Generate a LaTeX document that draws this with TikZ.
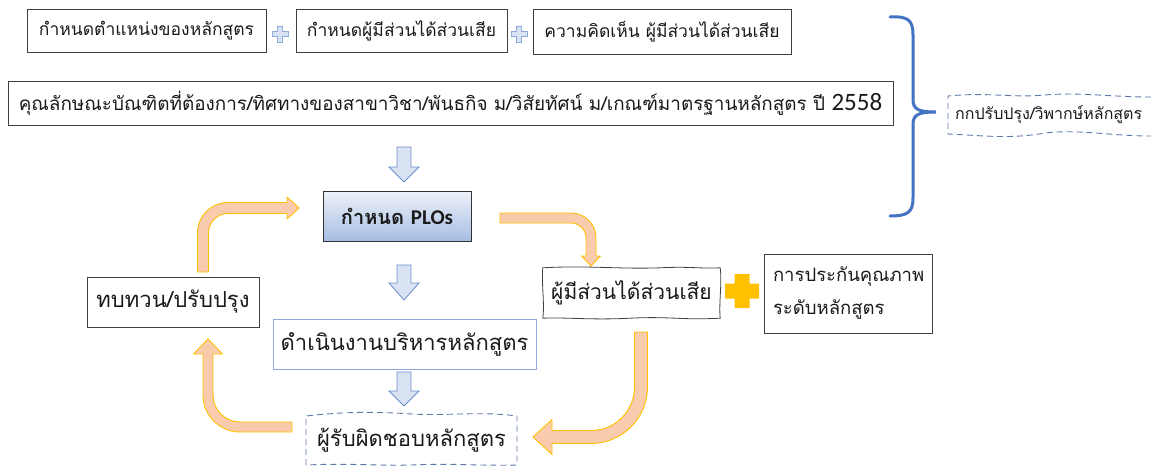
\documentclass[tikz,border=0pt]{standalone}
\usepackage{fontspec}
\newfontfamily\thai[Script=Thai]{Loma}
\newfontfamily\latinf{Carlito}
\definecolor{ofill}{HTML}{F8CBAD}
\definecolor{oline}{HTML}{FFC000}
\definecolor{bfill}{HTML}{DAE3F3}
\definecolor{bline}{HTML}{6A8CC7}
\definecolor{bracec}{HTML}{4472C4}
\definecolor{dashc}{HTML}{5B78A8}
\definecolor{opbox}{HTML}{8FAADC}
\definecolor{goldc}{HTML}{FFC000}
\definecolor{txt}{HTML}{1A1A1A}
\definecolor{plotop}{HTML}{EEF2FA}
\definecolor{plobot}{HTML}{A6BDE2}
\newcommand{\bluedown}[4]{\draw[downarrow] (#1-7,#2) -- (#1+7,#2) -- (#1+7,#3) -- (#1+15,#3) -- (#1,#4) -- (#1-15,#3) -- (#1-7,#3) -- cycle;}
\newcommand{\crossat}[5]{\draw[#5] (#1-#4,#2-#3) -- (#1+#4,#2-#3) -- (#1+#4,#2-#4) -- (#1+#3,#2-#4) -- (#1+#3,#2+#4) -- (#1+#4,#2+#4) -- (#1+#4,#2+#3) -- (#1-#4,#2+#3) -- (#1-#4,#2+#4) -- (#1-#3,#2+#4) -- (#1-#3,#2-#4) -- (#1-#4,#2-#4) -- cycle;}
\begin{document}
\begin{tikzpicture}[x=1pt,y=-1pt,
 box/.style={draw=black!75, line width=0.8pt, inner sep=0pt, font=\thai\fontsize{17.5}{20}\selectfont, text=txt},
 bigbox/.style={box, font=\thai\fontsize{22}{26}\selectfont},
 fat/.style={fill=ofill, draw=oline, line width=0.9pt, line join=round},
 downarrow/.style={fill=bfill, draw=bline, line width=0.8pt},
 dashline/.style={draw=dashc, dash pattern=on 6pt off 4pt, line width=0.9pt}]
\useasboundingbox (0,0) rectangle (1151,466);
\clip (0,0) rectangle (1151,466);

% top row
\node[box, minimum width=239, minimum height=43] (pos) at (146.5,30.5) {กำหนดตำแหน่งของหลักสูตร};
\node[box, minimum width=211, minimum height=43] (who) at (401.5,30.5) {กำหนดผู้มีส่วนได้ส่วนเสีย};
\node[box, minimum width=258, minimum height=45] (opin) at (662,31.5) {ความคิดเห็น ผู้มีส่วนได้ส่วนเสีย};
\crossat{280}{34}{8}{2.8}{fill=bfill, draw=opbox, line width=0.7pt}
\crossat{519}{34}{8}{2.8}{fill=bfill, draw=opbox, line width=0.7pt}

% long box
\node[box, font=\thai\fontsize{18.9}{22}\selectfont, minimum width=885, minimum height=44] (char) at (450.5,103) {คุณลักษณะบัณฑิตที่ต้องการ/ทิศทางของสาขาวิชา/พันธกิจ ม/วิสัยทัศน์ ม/เกณฑ์มาตรฐานหลักสูตร ปี {\latinf\fontsize{25}{28}\selectfont 2558}};

% brace
\draw[draw=bracec, line width=3pt, line cap=round] (890,17) .. controls (908,16) and (913,20) .. (913,35) -- (913,100) .. controls (913,110) and (920,112) .. (936,112) .. controls (920,112) and (913,114) .. (913,124) -- (913,198) .. controls (913,212) and (908,216) .. (890,216);

% critique box (open on the right)
\node[font=\thai\fontsize{16}{19}\selectfont, text=txt, anchor=west, inner sep=0pt] (crit) at (955,115) {กกปรับปรุง/วิพากษ์หลักสูตร};
\draw[dashline] (1151,97) .. controls (1110,97) and (1080,92) .. (1045,95) .. controls (1010,98) and (990,92) .. (948,96) -- (948,134) .. controls (990,136) and (1010,139) .. (1045,133) .. controls (1080,129) and (1110,136) .. (1151,136);

% PLOs
\node[draw=black!80, line width=0.8pt, inner sep=0pt, top color=plotop, bottom color=plobot, minimum width=148, minimum height=50, text=txt] (plo) at (397,216) {\thai\bfseries\fontsize{20}{24}\selectfont กำหนด {\latinf\bfseries\fontsize{21}{24}\selectfont PLOs}};

% stakeholders (hand-drawn outline)
\node[font=\thai\fontsize{21}{25}\selectfont, text=txt, inner sep=0pt, minimum width=177, minimum height=50] (stake) at (631.5,293) {ผู้มีส่วนได้ส่วนเสีย};
\draw[draw=black!75, line width=0.8pt] (stake.north west) .. controls +(45,-2.5) and +(-40,1.5) .. ([xshift=-60]stake.north east) .. controls +(30,-1.5) and +(-20,1) .. (stake.north east) .. controls +(2,15) and +(-1.5,-15) .. (stake.south east) .. controls +(-40,2) and +(40,-2) .. ([xshift=-90]stake.south east) .. controls +(-40,2) and +(25,-1) .. (stake.south west) .. controls +(2,-15) and +(-1.5,15) .. (stake.north west) -- cycle;
\crossat{742}{291}{17}{7.5}{fill=goldc, draw=none}
\node[box, minimum width=168, minimum height=79, text width=150pt, align=left, font=\thai\fontsize{18.5}{33}\selectfont] (qa) at (848,293.5) {การประกันคุณภาพ\\ระดับหลักสูตร};

% review
\node[bigbox, minimum width=172, minimum height=50] (rev) at (173,302) {ทบทวน/ปรับปรุง};
% operate
\node[bigbox, draw=opbox, minimum width=263, minimum height=50] (op) at (404.5,344) {ดำเนินงานบริหารหลักสูตร};
% responsible
\node[font=\thai\fontsize{22}{26}\selectfont, text=txt, inner sep=0pt] (resp) at (411.5,440) {ผู้รับผิดชอบหลักสูตร};
\draw[dashline] (306,465) -- (306,416) .. controls (350,411) and (380,412) .. (412,414) .. controls (450,416) and (480,411) .. (517,416) -- (517,465) .. controls (480,466) and (450,463) .. (412,465) .. controls (380,466) and (350,463) .. (306,465);

% blue down arrows
\bluedown{404}{147}{167}{182}
\bluedown{404}{265}{283}{300}
\bluedown{404}{372}{391}{406}

% orange arrows
% review -> PLOs
\draw[fat] (197.5,272) -- (197.5,233) arc[start angle=180, end angle=270, radius=30.5] -- (287,202.5) -- (287,197) -- (299,208) -- (287,219) -- (287,213.5) -- (228,213.5) arc[start angle=270, end angle=180, radius=19.5] -- (208.5,272) -- cycle;
% PLOs -> stakeholders
\draw[fat] (500,213) -- (571,213) arc[start angle=270, end angle=360, radius=25] -- (596,256) -- (600.5,256) -- (591,266) -- (581.5,256) -- (586,256) -- (586,238) arc[start angle=0, end angle=-90, radius=15] -- (500,223) -- cycle;
% stakeholders -> responsible
\draw[fat] (634.5,332) -- (647.5,332) -- (647.5,387) arc[start angle=0, end angle=90, radius=56.5] -- (552,443.5) -- (552,454.5) -- (533,437) -- (552,419.5) -- (552,430.5) -- (591,430.5) arc[start angle=90, end angle=0, radius=43.5] -- cycle;
% responsible -> review
\draw[fat] (292,422) -- (240,422) arc[start angle=90, end angle=180, radius=27] -- (213,354) -- (222.5,354) -- (208,339) -- (193.5,354) -- (203,354) -- (203,395) arc[start angle=180, end angle=90, radius=37] -- (292,432) -- cycle;
\end{tikzpicture}
\end{document}
